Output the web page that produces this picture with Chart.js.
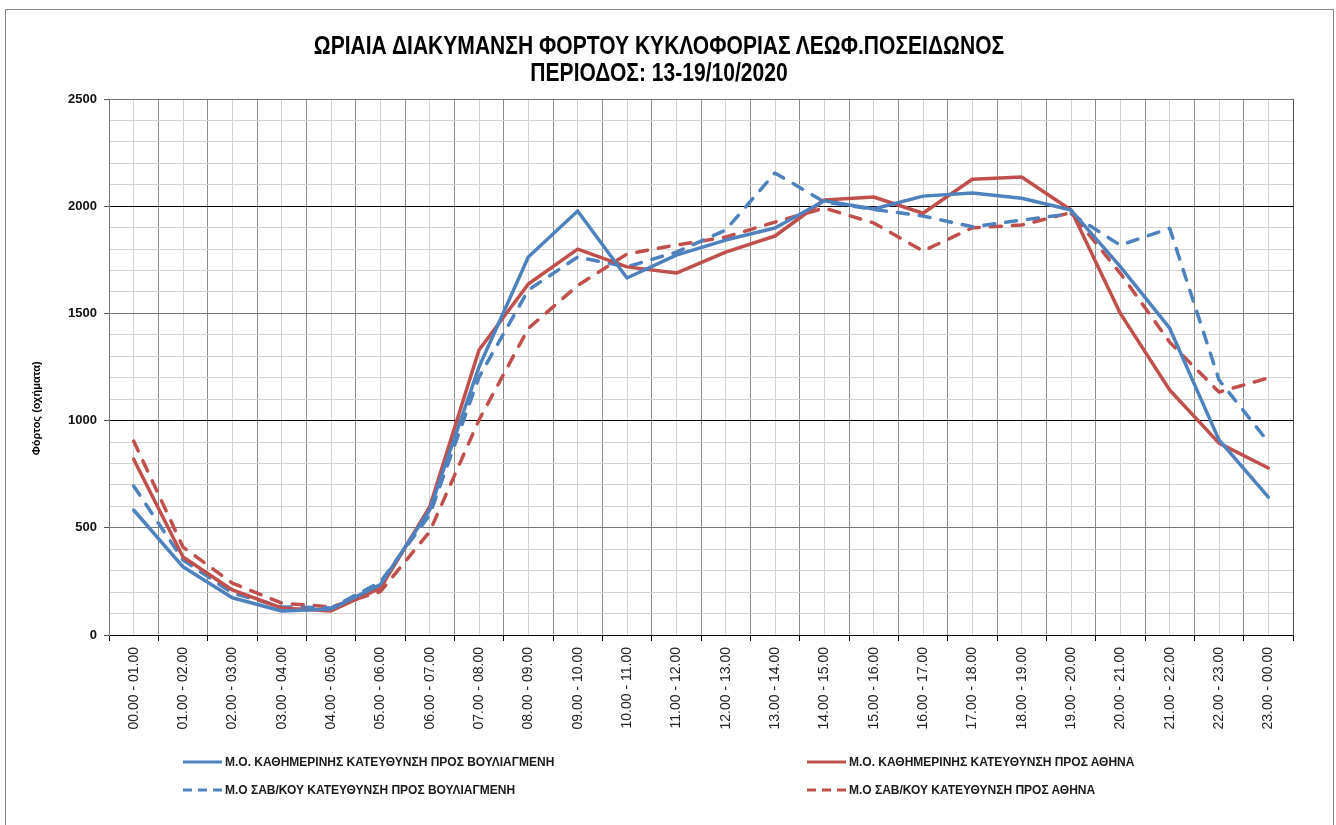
<!DOCTYPE html>
<html lang="el">
<head>
    <meta charset="UTF-8">
    <title>Ωριαία διακύμανση φόρτου κυκλοφορίας</title>
    <script src="https://cdn.jsdelivr.net/npm/chart.js@4"></script>
    <style>
        body { margin: 0; background: #fff; }
        .frame { position: absolute; left: 5px; top: 9px; width: 1327px; height: 830px; border: 1px solid #8a8a8a; }
        #chart { position: absolute; left: 0; top: 0; }
        .title-line {
            position: absolute;
            left: 0;
            width: 1318px;
            height: 26px;
            line-height: 26px;
            text-align: center;
            white-space: nowrap;
            font: bold 26px 'Liberation Sans', Arial, sans-serif;
            color: #000;
            transform: scaleX(0.81);
        }
        .legend-item {
            position: absolute;
            display: flex;
            align-items: center;
            white-space: nowrap;
            font: bold 12px 'Liberation Sans', Arial, sans-serif;
            color: #1a1a1a;
        }
        .legend-item svg { margin-right: 3px; }
    </style>
</head>
<body>
    <div class="frame"></div>
    <canvas id="chart" width="1336" height="825"></canvas>
    <div id="title"></div>
    <div id="legend"></div>

    <script>
        // categories (hour slots)
        const hours = [
            '00.00 - 01.00', '01.00 - 02.00', '02.00 - 03.00', '03.00 - 04.00', '04.00 - 05.00', '05.00 - 06.00',
            '06.00 - 07.00', '07.00 - 08.00', '08.00 - 09.00', '09.00 - 10.00', '10.00 - 11.00', '11.00 - 12.00',
            '12.00 - 13.00', '13.00 - 14.00', '14.00 - 15.00', '15.00 - 16.00', '16.00 - 17.00', '17.00 - 18.00',
            '18.00 - 19.00', '19.00 - 20.00', '20.00 - 21.00', '21.00 - 22.00', '22.00 - 23.00', '23.00 - 00.00'
        ];

        // series (vehicles per hour)
        const dailyVouliagmeni = [583, 318, 174, 112, 121, 235, 583, 1250, 1763, 1978, 1665, 1772, 1842, 1898, 2025, 1987, 2047, 2062, 2037, 1982, 1718, 1431, 910, 643];
        const dailyAthina = [820, 364, 210, 126, 112, 218, 597, 1329, 1637, 1800, 1717, 1688, 1786, 1861, 2029, 2043, 1967, 2126, 2136, 1982, 1500, 1143, 895, 779];
        const weekendVouliagmeni = [695, 350, 196, 131, 126, 247, 560, 1203, 1609, 1763, 1717, 1786, 1889, 2155, 2020, 1985, 1954, 1904, 1935, 1965, 1818, 1897, 1190, 900];
        const weekendAthina = [905, 410, 242, 149, 131, 202, 482, 1003, 1430, 1630, 1777, 1819, 1856, 1926, 1991, 1922, 1791, 1899, 1912, 1970, 1687, 1366, 1133, 1199];

        const seriesNames = [
            'Μ.Ο. ΚΑΘΗΜΕΡΙΝΗΣ ΚΑΤΕΥΘΥΝΣΗ ΠΡΟΣ ΒΟΥΛΙΑΓΜΕΝΗ',
            'Μ.Ο. ΚΑΘΗΜΕΡΙΝΗΣ ΚΑΤΕΥΘΥΝΣΗ ΠΡΟΣ ΑΘΗΝΑ',
            'Μ.Ο ΣΑΒ/ΚΟΥ ΚΑΤΕΥΘΥΝΣΗ ΠΡΟΣ ΒΟΥΛΙΑΓΜΕΝΗ',
            'Μ.Ο ΣΑΒ/ΚΟΥ ΚΑΤΕΥΘΥΝΣΗ ΠΡΟΣ ΑΘΗΝΑ'
        ];
        const seriesValues = [dailyVouliagmeni, dailyAthina, weekendVouliagmeni, weekendAthina];
        const seriesColors = ['#4F81BD', '#C0504D', '#4F81BD', '#C0504D'];
        const seriesDashed = [false, false, true, true];

        // y axis: grid every 100, labels every 500
        const yMax = 2500;
        const yMinorStep = 100;
        const yLabelStep = 500;

        const titleLines = ['ΩΡΙΑΙΑ ΔΙΑΚΥΜΑΝΣΗ ΦΟΡΤΟΥ ΚΥΚΛΟΦΟΡΙΑΣ ΛΕΩΦ.ΠΟΣΕΙΔΩΝΟΣ', 'ΠΕΡΙΟΔΟΣ: 13-19/10/2020'];
        const yTitle = 'Φόρτος (οχήματα)';

        const normal = "'Liberation Sans', Arial, sans-serif";

        const datasets = seriesValues.map((vals, i) => ({
            label: seriesNames[i],
            data: vals.map((v, k) => ({ x: k, y: v })),
            borderColor: seriesColors[i],
            backgroundColor: seriesColors[i],
            borderWidth: 3.5,
            borderDash: seriesDashed[i] ? [11, 11] : [],
            borderCapStyle: 'round',
            borderJoinStyle: 'round',
            pointRadius: 0,
            tension: 0,
            fill: false
        }));

        new Chart(document.getElementById('chart'), {
            type: 'line',
            data: { datasets: datasets },
            options: {
                responsive: false,
                animation: false,
                layout: { padding: { left: 26, right: 43, top: 99, bottom: 80 } },
                plugins: {
                    legend: { display: false },
                    tooltip: { enabled: false },
                    title: { display: false }
                },
                scales: {
                    x: {
                        type: 'linear',
                        min: -0.5,
                        max: hours.length - 0.5,
                        afterBuildTicks: s => {
                            const t = [];
                            for (let k = 0; k <= hours.length * 2; k++) t.push({ value: -0.5 + k * 0.5 });
                            s.ticks = t;
                        },
                        afterFit: s => { s.height = 110; },
                        ticks: {
                            autoSkip: false,
                            minRotation: 90,
                            maxRotation: 90,
                            padding: 6,
                            color: '#222',
                            font: { family: normal, size: 14 },
                            callback: v => Number.isInteger(v) ? hours[v] : ''
                        },
                        grid: {
                            color: ctx => {
                                const v = ctx.tick.value;
                                if (v === hours.length - 0.5) return '#555';
                                return Number.isInteger(v) ? '#d2d2d2' : '#8c8c8c';
                            },
                            lineWidth: 1,
                            tickLength: 6,
                            tickColor: ctx => Number.isInteger(ctx.tick.value) ? 'rgba(0,0,0,0)' : '#000'
                        },
                        border: { color: '#000', width: 1 }
                    },
                    y: {
                        min: 0,
                        max: yMax,
                        afterBuildTicks: s => {
                            const t = [];
                            for (let v = 0; v <= yMax; v += yMinorStep) t.push({ value: v });
                            s.ticks = t;
                        },
                        afterFit: s => { s.width = 83; },
                        ticks: {
                            autoSkip: false,
                            padding: 7,
                            color: '#111',
                            font: { family: normal, size: 13, weight: 'bold' },
                            callback: v => v % yLabelStep === 0 ? v : ''
                        },
                        grid: {
                            color: ctx => {
                                const v = ctx.tick.value;
                                if (v === 0) return '#000';
                                if (v % 1000 === 0) return '#000';
                                if (v % yLabelStep === 0) return '#777';
                                return '#d2d2d2';
                            },
                            tickLength: 5,
                            tickColor: ctx => ctx.tick.value % yLabelStep === 0 ? '#555' : 'rgba(0,0,0,0)'
                        },
                        border: { color: '#777', width: 1 },
                        title: {
                            display: true,
                            text: yTitle + '\u00a0'.repeat(27),
                            color: '#000',
                            font: { family: normal, size: 11, weight: 'bold' },
                            padding: { top: 4, bottom: 0 }
                        }
                    }
                }
            }
        });

        // title: condensed bold, two centred lines
        const titleTops = [30, 57];
        const titleBox = document.getElementById('title');
        titleLines.forEach((line, i) => {
            const d = document.createElement('div');
            d.className = 'title-line';
            d.style.top = titleTops[i] + 'px';
            d.textContent = line;
            titleBox.appendChild(d);
        });

        // legend: two columns, two rows, like the original sheet chart
        const legendCols = [183, 807];
        const legendRows = [762, 790];
        const legend = document.getElementById('legend');
        seriesNames.forEach((name, i) => {
            const item = document.createElement('div');
            item.className = 'legend-item';
            item.style.left = legendCols[i % 2] + 'px';
            item.style.top = (legendRows[Math.floor(i / 2)] - 8) + 'px';
            item.style.height = '16px';
            const dash = seriesDashed[i] ? ' stroke-dasharray="9 6"' : '';
            item.innerHTML = '<svg width="39" height="6"><line x1="0" y1="3" x2="39" y2="3" stroke="' +
                seriesColors[i] + '" stroke-width="3"' + dash + '/></svg><span></span>';
            item.querySelector('span').textContent = name;
            legend.appendChild(item);
        });
    </script>
</body>
</html>
